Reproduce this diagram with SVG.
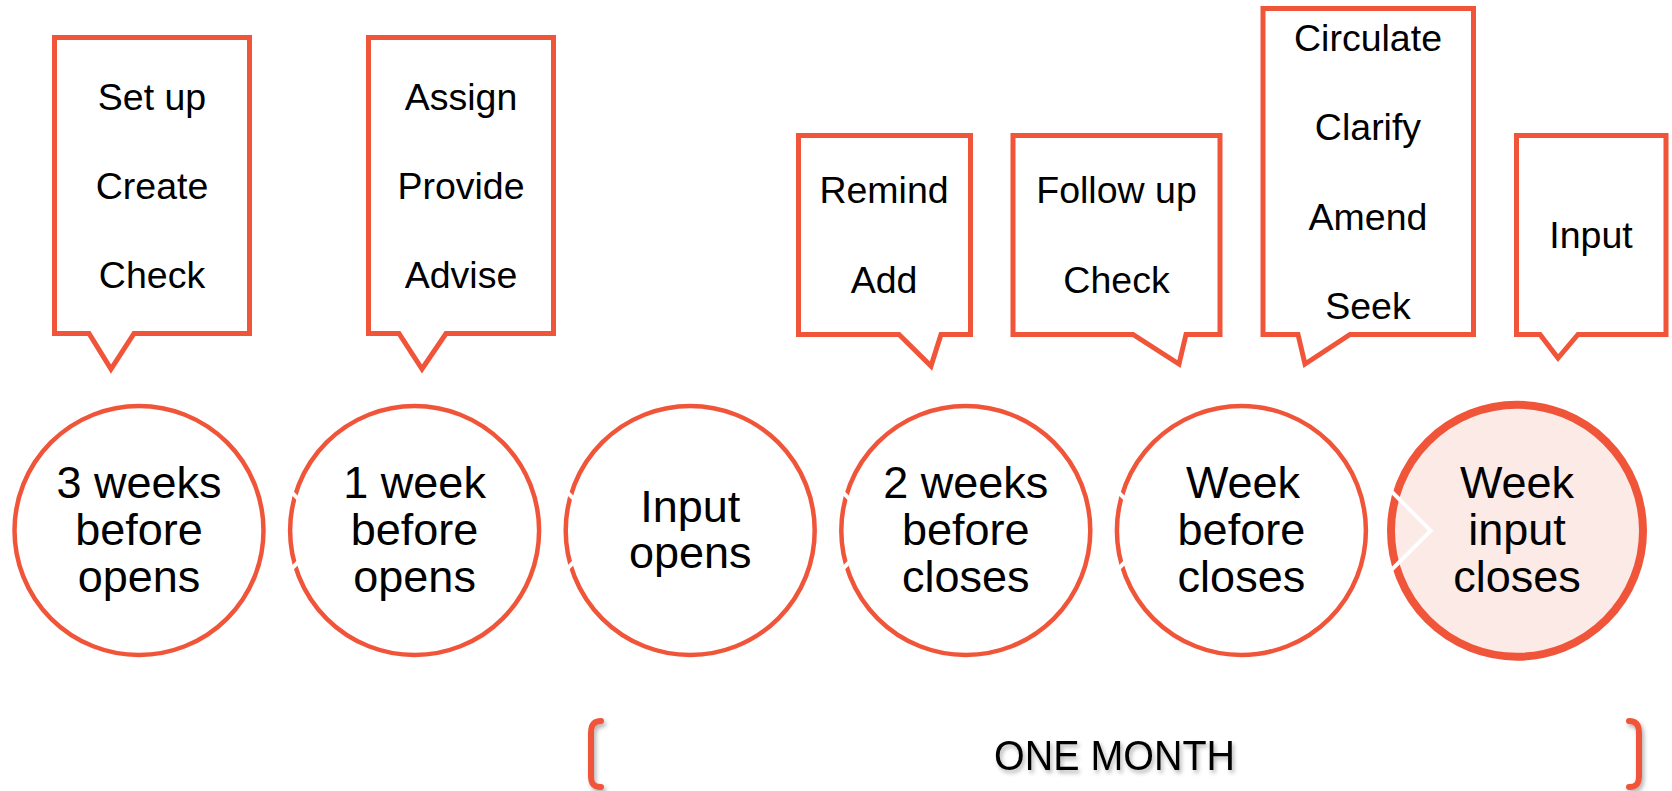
<svg xmlns="http://www.w3.org/2000/svg" width="1672" height="791" viewBox="0 0 1672 791">
  <defs>
    <style>
      .ring { fill: #FFFFFF; stroke: #F0553A; stroke-width: 4.5; }
      .ring-end { fill: #FCEAE7; stroke: #F0553A; stroke-width: 8; }
      .callout { fill: #FFFFFF; stroke: #F0553A; stroke-width: 5; stroke-linejoin: miter; stroke-miterlimit: 10; }
      .chev { fill: none; stroke: #FFFFFF; stroke-width: 4; }
      .lbl { font-family: "Liberation Sans", Arial, sans-serif; font-size: 45px; fill: #000000; text-anchor: middle; }
      .act { font-family: "Liberation Sans", Arial, sans-serif; font-size: 37.5px; fill: #000000; text-anchor: middle; }
      .bracket { fill: none; stroke: #F0553A; stroke-width: 6; stroke-linecap: round; }
      .span { font-family: "Liberation Sans", Arial, sans-serif; font-size: 43px; fill: #000000; text-anchor: middle; }
    </style>
    <filter id="shadow" x="-20%" y="-40%" width="140%" height="180%">
      <feDropShadow dx="2" dy="3" stdDeviation="2" flood-color="#000000" flood-opacity="0.3"/>
    </filter>
  </defs>

  <!-- callouts -->
  <g id="callout-1">
    <path class="callout" d="M54.5,37.5 H249.5 V333.5 H134 L111,369 L89,333.5 H54.5 Z"/>
    <text class="act" x="152" y="110">Set up</text>
    <text class="act" x="152" y="199">Create</text>
    <text class="act" x="152" y="288">Check</text>
  </g>
  <g id="callout-2">
    <path class="callout" d="M368.5,37.5 H553.5 V333.5 H446 L422,369 L399,333.5 H368.5 Z"/>
    <text class="act" x="461" y="110">Assign</text>
    <text class="act" x="461" y="199">Provide</text>
    <text class="act" x="461" y="288">Advise</text>
  </g>
  <g id="callout-3">
    <path class="callout" d="M798.5,135.5 H970.5 V334.5 H941 L931,366 L899,334.5 H798.5 Z"/>
    <text class="act" x="884" y="203">Remind</text>
    <text class="act" x="884" y="293">Add</text>
  </g>
  <g id="callout-4">
    <path class="callout" d="M1013,135.5 H1220 V334.5 H1186 L1179,364 L1133,334.5 H1013 Z"/>
    <text class="act" x="1116.5" y="203">Follow up</text>
    <text class="act" x="1116.5" y="293">Check</text>
  </g>
  <g id="callout-5">
    <path class="callout" d="M1263,8.5 H1473.5 V334.5 H1350 L1305,364 L1298,334.5 H1263 Z"/>
    <text class="act" x="1368" y="51">Circulate</text>
    <text class="act" x="1368" y="140">Clarify</text>
    <text class="act" x="1368" y="230">Amend</text>
    <text class="act" x="1368" y="319">Seek</text>
  </g>
  <g id="callout-6">
    <path class="callout" d="M1516.5,135.5 H1666 V334.5 H1578 L1558,358 L1540,334.5 H1516.5 Z"/>
    <text class="act" x="1591" y="248">Input</text>
  </g>

  <!-- timeline nodes -->
  <g id="node-1">
    <circle class="ring" cx="139" cy="530.5" r="124.5"/>
    <text class="lbl" x="139" y="498.3">3 weeks</text>
    <text class="lbl" x="139" y="545">before</text>
    <text class="lbl" x="139" y="591.7">opens</text>
  </g>
  <g id="node-2">
    <circle class="ring" cx="414.6" cy="530.5" r="124.5"/>
    <text class="lbl" x="414.6" y="498.3">1 week</text>
    <text class="lbl" x="414.6" y="545">before</text>
    <text class="lbl" x="414.6" y="591.7">opens</text>
  </g>
  <g id="node-3">
    <circle class="ring" cx="690.2" cy="530.5" r="124.5"/>
    <text class="lbl" x="690.2" y="521.5">Input</text>
    <text class="lbl" x="690.2" y="568.2">opens</text>
  </g>
  <g id="node-4">
    <circle class="ring" cx="965.8" cy="530.5" r="124.5"/>
    <text class="lbl" x="965.8" y="498.3">2 weeks</text>
    <text class="lbl" x="965.8" y="545">before</text>
    <text class="lbl" x="965.8" y="591.7">closes</text>
  </g>
  <g id="node-5">
    <circle class="ring" cx="1241.4" cy="530.5" r="124.5"/>
    <text class="lbl" x="1243" y="498.3">Week</text>
    <text class="lbl" x="1241.4" y="545">before</text>
    <text class="lbl" x="1241.4" y="591.7">closes</text>
  </g>
  <g id="node-6">
    <circle class="ring-end" cx="1517" cy="530.7" r="126"/>
    <text class="lbl" x="1517" y="498.3">Week</text>
    <text class="lbl" x="1517" y="545">input</text>
    <text class="lbl" x="1517" y="591.7">closes</text>
  </g>

  <!-- connectors: white chevrons entering each node -->
  <g id="connectors">
    <polyline class="chev" points="279.8,480.5 329.8,530.5 279.8,580.5"/>
    <polyline class="chev" points="555.4,480.5 605.4,530.5 555.4,580.5"/>
    <polyline class="chev" points="831,480.5 881,530.5 831,580.5"/>
    <polyline class="chev" points="1106.6,480.5 1156.6,530.5 1106.6,580.5"/>
    <polyline class="chev" points="1380.7,480.7 1430.7,530.7 1380.7,580.7"/>
  </g>

  <!-- span bracket -->
  <g id="span" filter="url(#shadow)">
    <path class="bracket" d="M601,721 C594,721 591,725 591,733 L591,776 C591,784 594,787 601,787"/>
    <path class="bracket" d="M1629,721 C1636,721 1639,725 1639,733 L1639,776 C1639,784 1636,787 1629,787"/>
    <text class="span" x="1114.5" y="770" textLength="241" lengthAdjust="spacingAndGlyphs">ONE MONTH</text>
  </g>
</svg>
